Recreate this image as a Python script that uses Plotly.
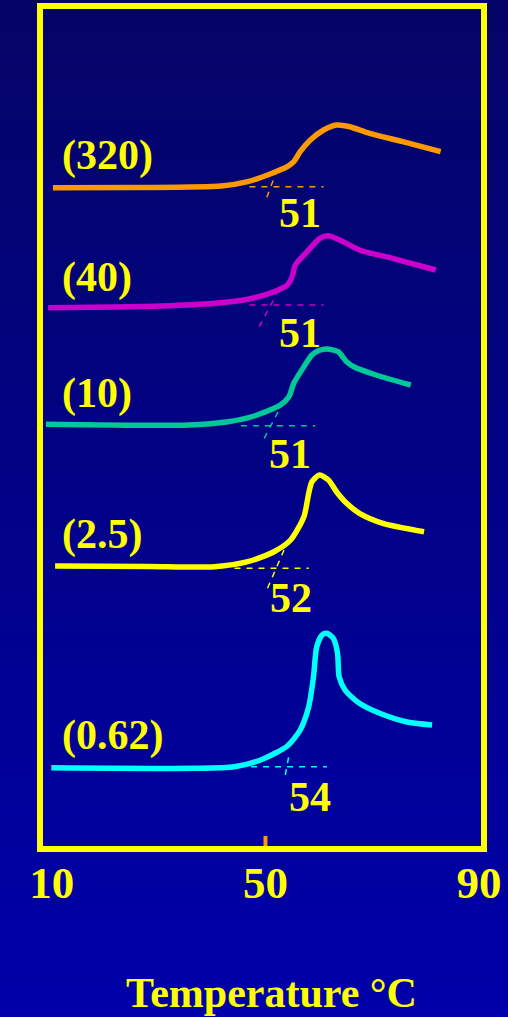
import plotly.graph_objects as go

# DSC heating traces, stacked with vertical offsets (arbitrary heat-flow units)
# Sample labels (scan rate) and onset temperatures (deg C)
sample_labels = ["(320)", "(40)", "(10)", "(2.5)", "(0.62)"]
onset_values = [51, 51, 51, 52, 54]
tick_values = [10, 50, 90]
tick_labels = ["10", "50", "90"]

temp_320 = [10.2, 26.3, 41.7, 46.7, 50.4, 54.1, 55.3, 56.5, 58.4, 60.9, 63.3, 65.8, 69.5, 75.7, 82.8]
heat_320 = [661.3, 661.5, 663.0, 667.3, 674.0, 682.3, 687.3, 697.3, 709.0, 719.0, 724.0, 722.3, 715.7, 707.3, 697.3]

temp_40 = [9.3, 30.6, 40.5, 46.7, 51.6, 54.1, 55.0, 55.6, 57.8, 60.2, 61.8, 63.9, 67.6, 73.8, 81.9]
heat_40 = [541.3, 543.0, 545.7, 549.7, 557.3, 564.0, 572.3, 584.0, 597.3, 610.7, 613.3, 609.0, 599.0, 590.7, 579.0]

temp_10 = [8.9, 35.6, 43.0, 47.9, 52.8, 54.4, 55.3, 57.2, 58.7, 60.0, 61.5, 63.6, 65.2, 66.7, 70.7, 77.2]
heat_10 = [424.7, 424.0, 427.3, 433.0, 444.0, 452.3, 465.7, 482.3, 494.0, 498.5, 500.0, 497.3, 487.3, 481.7, 474.0, 464.0]

temp_2_5 = [10.6, 28.1, 40.5, 46.7, 51.6, 54.7, 57.2, 58.1, 58.7, 60.1, 61.8, 63.3, 65.2, 67.6, 72.0, 79.7]
heat_2_5 = [283.0, 282.5, 282.3, 287.3, 297.3, 309.0, 332.3, 355.7, 367.3, 374.0, 369.0, 357.3, 345.7, 335.7, 325.7, 317.3]

temp_0_62 = [9.9, 36.8, 44.2, 49.1, 54.1, 56.5, 58.1, 59.0, 59.6, 60.6, 61.5, 62.7, 63.5, 63.8, 64.9, 67.6, 71.4, 76.3, 81.2]
heat_0_62 = [81.3, 80.7, 82.3, 89.0, 103.0, 119.0, 142.3, 172.3, 202.3, 214.0, 215.7, 210.7, 195.7, 172.3, 159.0, 145.7, 135.7, 127.3, 124.0]

# Onset construction: extrapolated baseline level and span, tangent slope and extent
baseline_level = [662.3, 544.0, 423.3, 280.7, 82.3]
baseline_from = [47.0, 47.0, 45.4, 44.2, 47.3]
baseline_to = [60.9, 60.9, 59.3, 58.1, 61.5]
tangent_slope = [14.2, 9.9, 10.2, 12.4, 29.0]
tangent_up = [20.0, 11.7, 15.7, 18.3, 13.4]
tangent_down = [10.6, 21.7, 12.6, 20.0, 8.3]

temps = [temp_320, temp_40, temp_10, temp_2_5, temp_0_62]
heats = [heat_320, heat_40, heat_10, heat_2_5, heat_0_62]
colors = ["#FF9900", "#CC00CC", "#00C896", "#FFFF00", "#00FFFF"]

YELLOW = "#FFFF00"
FONT = "Liberation Serif"

fig = go.Figure()

for i in range(len(temps)):
    c = colors[i]
    base = baseline_level[i]
    # extrapolated baseline (dashed)
    fig.add_trace(go.Scatter(
        x=[baseline_from[i], baseline_to[i]], y=[base, base], mode="lines",
        line=dict(color=c, width=1.5, dash="6px,6px"), hoverinfo="skip", showlegend=False))
    # tangent at the leading edge, through the onset point
    t0 = onset_values[i]
    s = tangent_slope[i]
    fig.add_trace(go.Scatter(
        x=[t0 - tangent_down[i] / s, t0 + tangent_up[i] / s],
        y=[base - tangent_down[i], base + tangent_up[i]], mode="lines",
        line=dict(color=c, width=1.5, dash="6px,6px"), hoverinfo="skip", showlegend=False))
    # the trace itself
    fig.add_trace(go.Scatter(
        x=temps[i], y=heats[i], mode="lines",
        line=dict(color=c, width=5.5, shape="spline", smoothing=0.7),
        hoverinfo="skip", showlegend=False))

# px -> deg C scale used for label placement
PX_PER_DEG = 5.4
name_label_t = 50 + (60 - 268) / PX_PER_DEG
onset_label_t = [56.5, 56.5, 54.6, 54.8, 58.3]
name_label_dy = [31, 28, 32, 34, 31]
onset_label_dy = [26, 28, 28, 30, 30]

annotations = []
for i in range(len(temps)):
    annotations.append(dict(
        x=name_label_t, y=baseline_level[i] + name_label_dy[i], xref="x", yref="y",
        text="<b>" + sample_labels[i] + "</b>", showarrow=False,
        xanchor="left", yanchor="middle",
        font=dict(family=FONT, size=42, color=YELLOW)))
    annotations.append(dict(
        x=onset_label_t[i], y=baseline_level[i] - onset_label_dy[i], xref="x", yref="y",
        text="<b>%d</b>" % onset_values[i], showarrow=False,
        xanchor="center", yanchor="middle",
        font=dict(family=FONT, size=42, color=YELLOW)))

annotations.append(dict(
    x=(274 - 40) / 449, y=(849 - 993) / 843, xref="paper", yref="paper",
    text="<b>Temperature \u00b0C</b>", showarrow=False,
    xanchor="center", yanchor="middle",
    font=dict(family=FONT, size=42, color=YELLOW)))

# Vertical background gradient, dark navy at the top to brighter blue at the bottom
shapes = []
n_bands = 90
y_top, y_bot = 849 / 843, (849 - 1017) / 843
top_rgb = (4, 4, 102)
bot_rgb = (0, 0, 170)
for k in range(n_bands):
    f0 = k / n_bands
    f1 = (k + 1) / n_bands
    fm = (k + 0.5) / n_bands
    col = "rgb(%d,%d,%d)" % tuple(round(a + (b - a) * fm) for a, b in zip(top_rgb, bot_rgb))
    shapes.append(dict(
        type="rect", xref="paper", yref="paper", layer="below",
        x0=-0.12, x1=1.08,
        y0=y_top + (y_bot - y_top) * f1 - 0.002, y1=y_top + (y_bot - y_top) * f0 + 0.002,
        fillcolor=col, line=dict(width=0)))

# tick mark at 50 deg C
shapes.append(dict(
    type="line", xref="x", yref="paper", x0=50, x1=50, y0=0, y1=13 / 843,
    line=dict(color="#FF9900", width=4), layer="above"))
# yellow frame
shapes.append(dict(
    type="rect", xref="paper", yref="paper", x0=0, x1=1, y0=0, y1=1,
    line=dict(color=YELLOW, width=6), fillcolor="rgba(0,0,0,0)", layer="above"))

x_lo = 50 + (40 - 268) / PX_PER_DEG
x_hi = 50 + (489 - 268) / PX_PER_DEG

fig.update_layout(
    width=508, height=1017,
    margin=dict(l=40, r=19, t=6, b=168),
    paper_bgcolor="rgb(3,3,137)",
    plot_bgcolor="rgba(0,0,0,0)",
    showlegend=False,
    shapes=shapes,
    annotations=annotations,
    xaxis=dict(
        range=[x_lo, x_hi], tickvals=tick_values,
        ticktext=["<b>" + t + "</b>" for t in tick_labels],
        tickfont=dict(family=FONT, size=45, color=YELLOW),
        showgrid=False, zeroline=False, showline=False, ticks="",
        ticklabelstandoff=3, fixedrange=True),
    yaxis=dict(range=[0, 843], visible=False, fixedrange=True),
)

fig.write_html("out.html", config={"displayModeBar": False})
